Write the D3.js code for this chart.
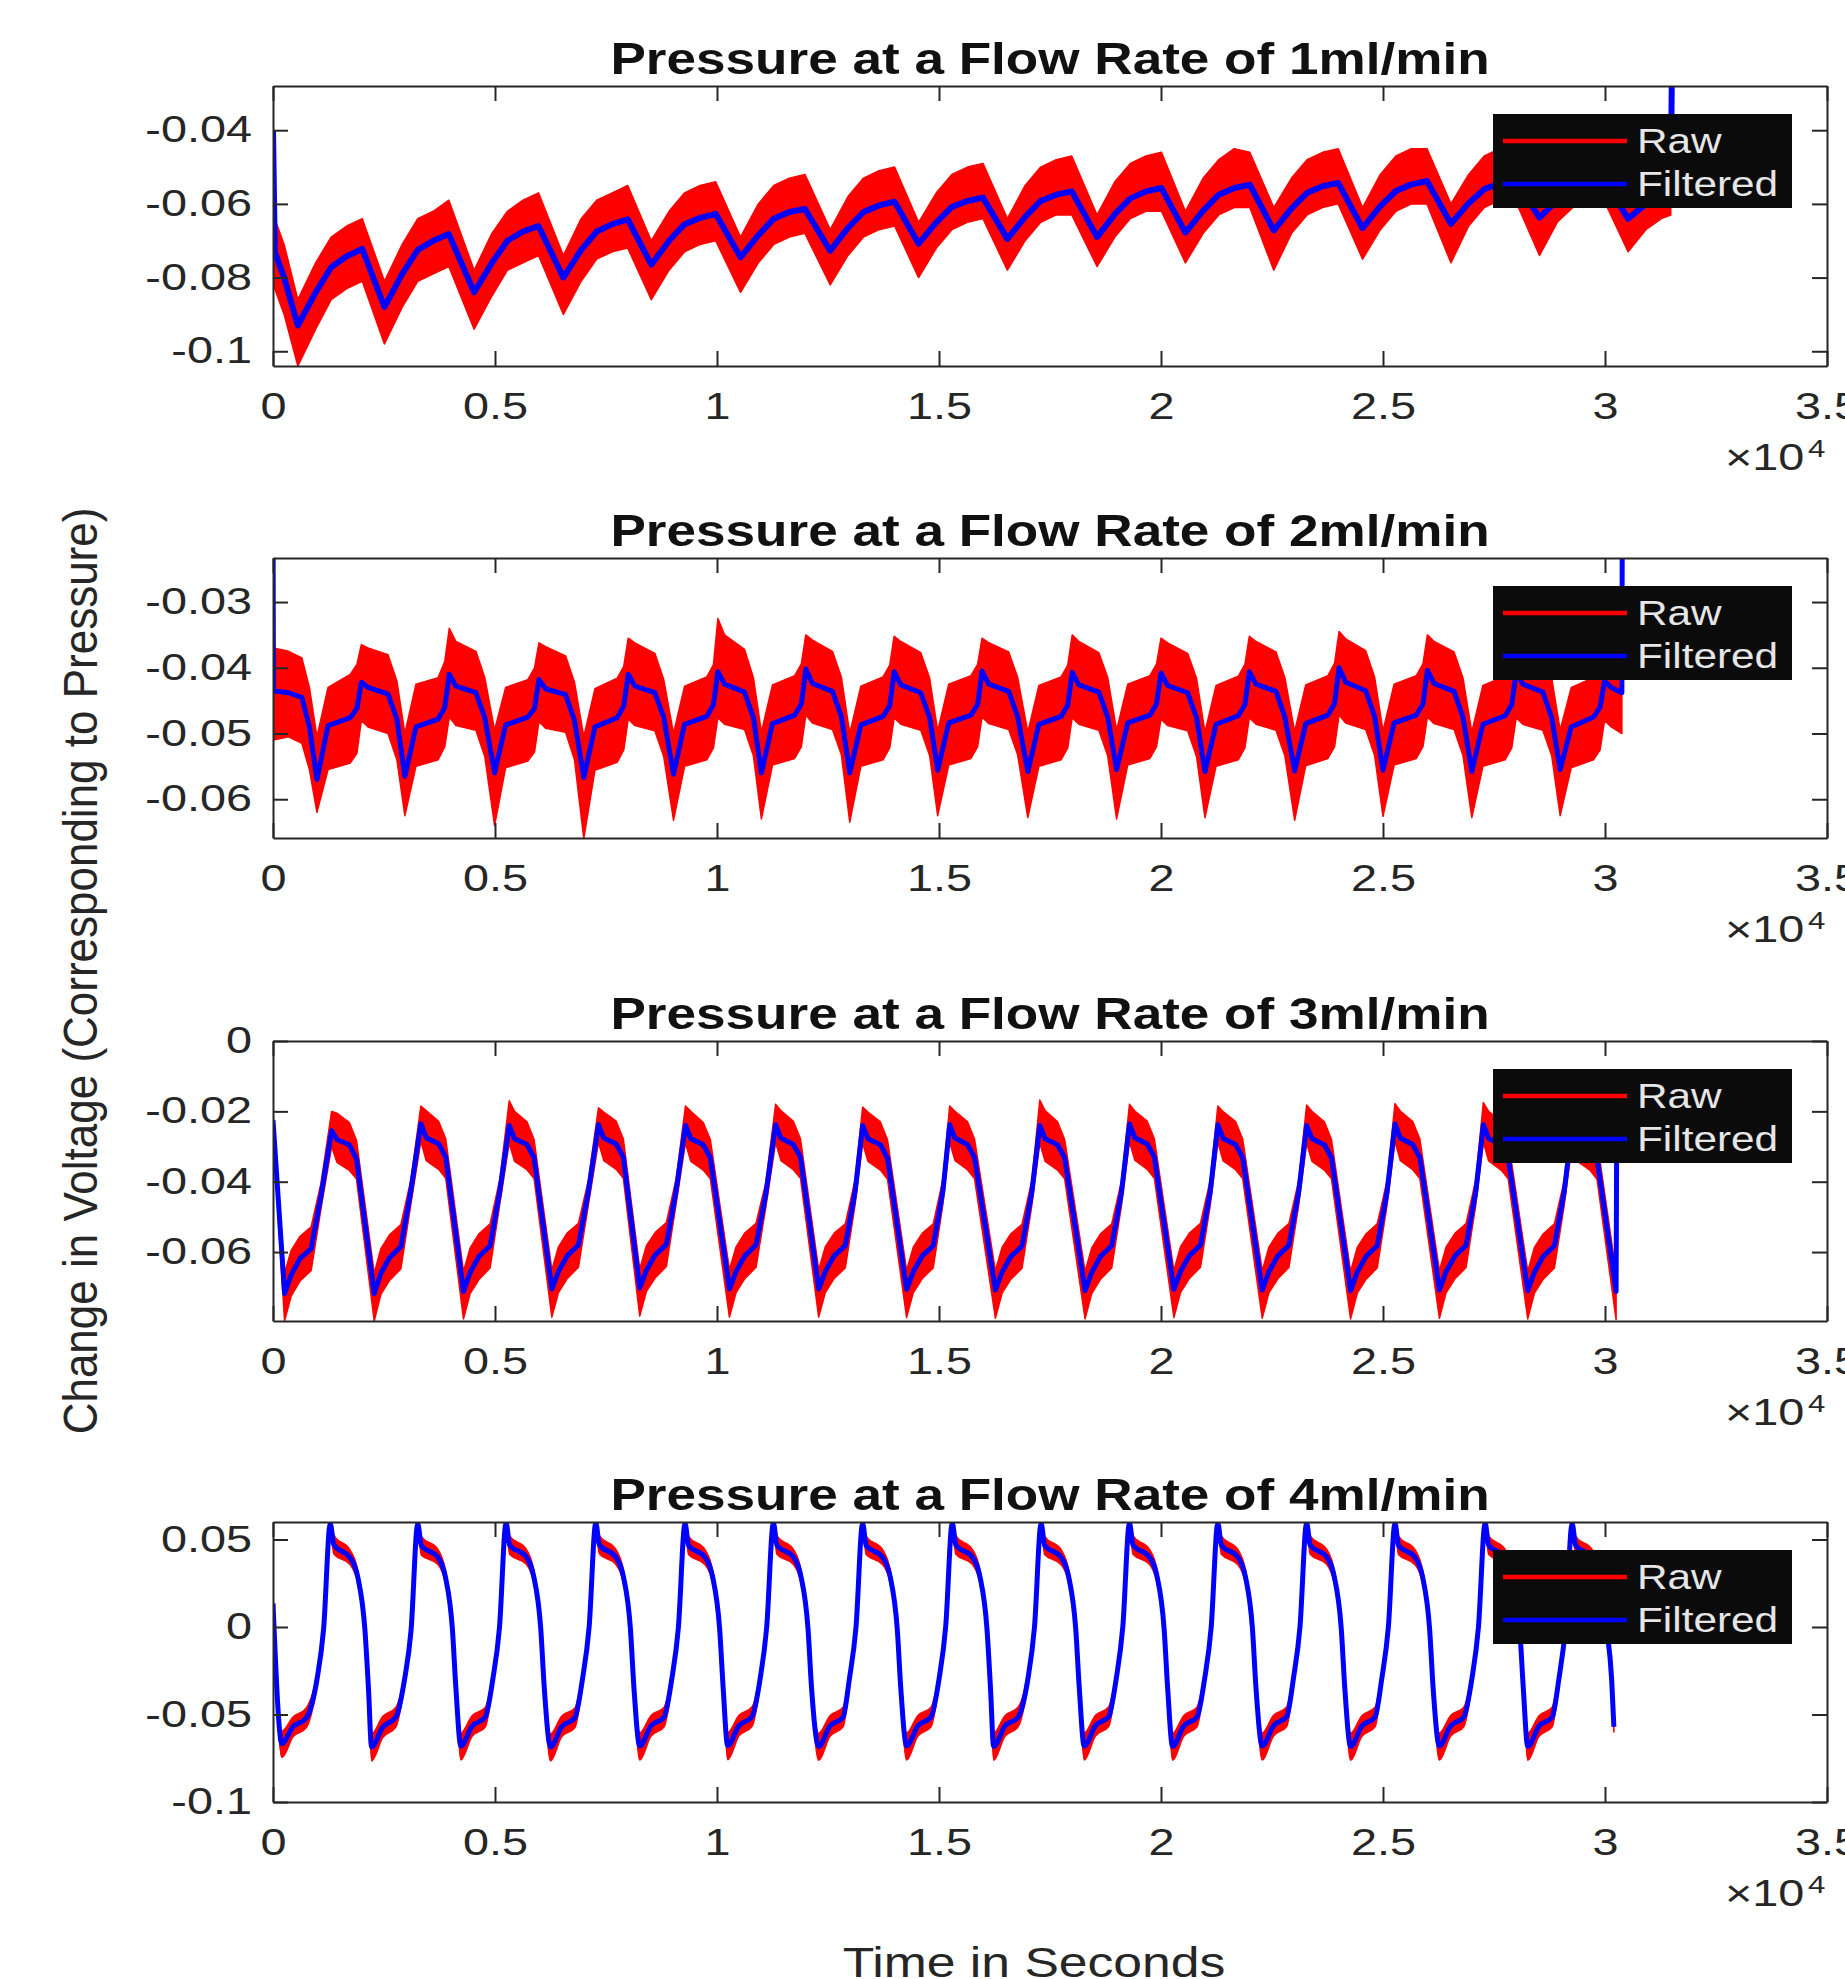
<!DOCTYPE html>
<html>
<head>
<meta charset="utf-8">
<title>Pressure at a Flow Rate of 1-4 ml/min</title>
<script src="https://cdn.jsdelivr.net/npm/d3@7"></script>
<style>
  body { margin: 0; background: #fff; }
  svg { display: block; font-family: "Liberation Sans", Arial, Helvetica, sans-serif; }
</style>
</head>
<body>
<svg id="chart" width="1845" height="1979"></svg>
<script>
const titles = [
  "Pressure at a Flow Rate of 1ml/min",
  "Pressure at a Flow Rate of 2ml/min",
  "Pressure at a Flow Rate of 3ml/min",
  "Pressure at a Flow Rate of 4ml/min"
];
const seriesNames = ["Raw", "Filtered"];
const xTicks = [0, 5000, 10000, 15000, 20000, 25000, 30000, 35000];
const xDomain = [0, 35000];
const yDomains = [[-0.104, -0.028], [-0.0659, -0.0233], [-0.0796, 0], [-0.1, 0.06]];
const yTicks = [
  [-0.1, -0.08, -0.06, -0.04],
  [-0.06, -0.05, -0.04, -0.03],
  [-0.06, -0.04, -0.02, 0],
  [-0.1, -0.05, 0, 0.05]
];
const xLabel = "Time in Seconds";
const yLabel = "Change in Voltage (Corresponding to Pressure)";

// ---- 1 ml/min : time (s), filtered, raw upper / lower envelope
const t1 = [0, 40, 250,
  560, 960, 1310, 1660, 2010,
  2510, 2910, 3260, 3610, 3960,
  4530, 4930, 5280, 5630, 5980,
  6540, 6940, 7290, 7640, 7990,
  8520, 8920, 9270, 9620, 9970,
  10530, 10930, 11280, 11630, 11980,
  12550, 12950, 13300, 13650, 14000,
  14540, 14940, 15290, 15640, 15990,
  16540, 16940, 17290, 17640, 17990,
  18560, 18960, 19310, 19660, 20010,
  20550, 20950, 21300, 21650, 22000,
  22540, 22940, 23290, 23640, 23990,
  24540, 24940, 25290, 25640, 25990,
  26530, 26930, 27280, 27630, 27980,
  28525, 28925, 29275, 29625, 29975,
  30520, 30920, 31270, 31480, 31510];
const filt1 = [-0.040, -0.073, -0.080,
  -0.0930, -0.0840, -0.0772, -0.0742, -0.0722,
  -0.0880, -0.0790, -0.0725, -0.0700, -0.0682,
  -0.0840, -0.0760, -0.0700, -0.0675, -0.0660,
  -0.0800, -0.0725, -0.0675, -0.0655, -0.0642,
  -0.0765, -0.0700, -0.0655, -0.0638, -0.0627,
  -0.0745, -0.0685, -0.0640, -0.0622, -0.0614,
  -0.0727, -0.0665, -0.0622, -0.0604, -0.0594,
  -0.0708, -0.0650, -0.0608, -0.0592, -0.0583,
  -0.0695, -0.0635, -0.0592, -0.0575, -0.0566,
  -0.0690, -0.0628, -0.0585, -0.0566, -0.0557,
  -0.0678, -0.0618, -0.0575, -0.0557, -0.0548,
  -0.0672, -0.0612, -0.0570, -0.0552, -0.0543,
  -0.0666, -0.0606, -0.0565, -0.0547, -0.0538,
  -0.0654, -0.0598, -0.0560, -0.0544, -0.0535,
  -0.0637, -0.0590, -0.0556, -0.0541, -0.0534,
  -0.0640, -0.0600, -0.0570, -0.0560, -0.0200];
const hi1 = [-0.062, -0.064, -0.071,
  -0.086, -0.076, -0.069, -0.066, -0.064,
  -0.081, -0.071, -0.064, -0.062, -0.059,
  -0.078, -0.068, -0.062, -0.059, -0.057,
  -0.074, -0.064, -0.059, -0.057, -0.055,
  -0.070, -0.062, -0.057, -0.055, -0.054,
  -0.069, -0.060, -0.055, -0.053, -0.052,
  -0.067, -0.058, -0.053, -0.051, -0.050,
  -0.065, -0.057, -0.052, -0.050, -0.049,
  -0.064, -0.055, -0.050, -0.048, -0.047,
  -0.063, -0.054, -0.049, -0.047, -0.046,
  -0.062, -0.053, -0.048, -0.045, -0.046,
  -0.061, -0.053, -0.048, -0.046, -0.045,
  -0.061, -0.052, -0.047, -0.045, -0.045,
  -0.060, -0.052, -0.047, -0.045, -0.044,
  -0.059, -0.051, -0.047, -0.045, -0.045,
  -0.058, -0.052, -0.049, -0.050, null];
const lo1 = [-0.081, -0.083, -0.090,
  -0.104, -0.094, -0.086, -0.083, -0.081,
  -0.098, -0.088, -0.081, -0.079, -0.077,
  -0.094, -0.085, -0.078, -0.076, -0.074,
  -0.090, -0.081, -0.075, -0.073, -0.072,
  -0.086, -0.078, -0.073, -0.071, -0.070,
  -0.084, -0.076, -0.071, -0.069, -0.068,
  -0.082, -0.074, -0.069, -0.067, -0.066,
  -0.080, -0.072, -0.067, -0.065, -0.064,
  -0.078, -0.070, -0.065, -0.063, -0.063,
  -0.077, -0.069, -0.064, -0.062, -0.062,
  -0.076, -0.068, -0.063, -0.061, -0.061,
  -0.078, -0.068, -0.063, -0.061, -0.060,
  -0.075, -0.067, -0.062, -0.060, -0.060,
  -0.076, -0.066, -0.061, -0.059, -0.059,
  -0.074, -0.065, -0.061, -0.059, -0.059,
  -0.073, -0.067, -0.064, -0.063, null];

// ---- 2 ml/min
const t2 = [0, 10, 350, 650, 820,
  990, 1240, 1740, 1890, 1990, 2140, 2590, 2790,
  2970, 3220, 3720, 3870, 3970, 4120, 4570, 4770,
  4990, 5240, 5740, 5890, 5990, 6140, 6590, 6790,
  7000, 7250, 7750, 7900, 8000, 8150, 8600, 8800,
  9020, 9270, 9770, 9920, 10020, 10170, 10620, 10820,
  11000, 11250, 11750, 11900, 12000, 12150, 12600, 12800,
  12990, 13240, 13740, 13890, 13990, 14140, 14590, 14790,
  14970, 15220, 15720, 15870, 15970, 16120, 16570, 16770,
  17000, 17250, 17750, 17900, 18000, 18150, 18600, 18800,
  19000, 19250, 19750, 19900, 20000, 20150, 20600, 20800,
  20990, 21240, 21740, 21890, 21990, 22140, 22590, 22790,
  23010, 23260, 23760, 23910, 24010, 24160, 24610, 24810,
  25000, 25250, 25750, 25900, 26000, 26150, 26600, 26800,
  27000, 27250, 27750, 27900, 28000, 28150, 28600, 28800,
  28990, 29240, 29740, 29890, 29990, 30140, 30380, 30390];
const filt2 = [-0.0150, -0.0435, -0.0438, -0.0445, -0.0490,
  -0.0570, -0.0488, -0.0476, -0.0462, -0.0422, -0.0430, -0.0440, -0.0478,
  -0.0565, -0.0490, -0.0478, -0.0460, -0.0410, -0.0428, -0.0438, -0.0476,
  -0.0560, -0.0487, -0.0475, -0.0462, -0.0418, -0.0432, -0.0441, -0.0480,
  -0.0567, -0.0490, -0.0476, -0.0458, -0.0410, -0.0428, -0.0438, -0.0475,
  -0.0562, -0.0486, -0.0474, -0.0456, -0.0406, -0.0425, -0.0437, -0.0476,
  -0.0560, -0.0485, -0.0472, -0.0455, -0.0402, -0.0424, -0.0436, -0.0474,
  -0.0560, -0.0487, -0.0474, -0.0458, -0.0406, -0.0426, -0.0438, -0.0476,
  -0.0556, -0.0484, -0.0472, -0.0456, -0.0405, -0.0425, -0.0436, -0.0474,
  -0.0558, -0.0486, -0.0474, -0.0457, -0.0407, -0.0426, -0.0437, -0.0475,
  -0.0555, -0.0484, -0.0472, -0.0455, -0.0408, -0.0427, -0.0438, -0.0476,
  -0.0558, -0.0486, -0.0473, -0.0456, -0.0406, -0.0425, -0.0436, -0.0475,
  -0.0557, -0.0485, -0.0472, -0.0454, -0.0400, -0.0422, -0.0435, -0.0474,
  -0.0556, -0.0484, -0.0472, -0.0455, -0.0404, -0.0424, -0.0436, -0.0475,
  -0.0558, -0.0486, -0.0473, -0.0456, -0.0406, -0.0425, -0.0437, -0.0476,
  -0.0555, -0.0490, -0.0475, -0.0460, -0.0420, -0.0430, -0.0438, -0.0150];
const hi2 = [null, -0.0370, -0.0375, -0.0385, -0.0430,
  -0.0505, -0.0430, -0.0410, -0.0395, -0.0365, -0.0370, -0.0380, -0.0420,
  -0.0500, -0.0425, -0.0415, -0.0390, -0.0340, -0.0360, -0.0375, -0.0415,
  -0.0495, -0.0430, -0.0418, -0.0400, -0.0362, -0.0368, -0.0382, -0.0422,
  -0.0505, -0.0432, -0.0416, -0.0398, -0.0355, -0.0362, -0.0378, -0.0418,
  -0.0500, -0.0428, -0.0414, -0.0395, -0.0325, -0.0350, -0.0372, -0.0415,
  -0.0498, -0.0426, -0.0412, -0.0394, -0.0350, -0.0358, -0.0375, -0.0414,
  -0.0500, -0.0428, -0.0414, -0.0396, -0.0352, -0.0360, -0.0377, -0.0416,
  -0.0496, -0.0425, -0.0412, -0.0395, -0.0355, -0.0362, -0.0376, -0.0414,
  -0.0498, -0.0427, -0.0414, -0.0396, -0.0350, -0.0360, -0.0377, -0.0415,
  -0.0495, -0.0425, -0.0412, -0.0394, -0.0355, -0.0362, -0.0378, -0.0416,
  -0.0498, -0.0427, -0.0413, -0.0395, -0.0352, -0.0360, -0.0376, -0.0415,
  -0.0497, -0.0426, -0.0412, -0.0393, -0.0345, -0.0356, -0.0374, -0.0414,
  -0.0496, -0.0425, -0.0412, -0.0394, -0.0350, -0.0360, -0.0376, -0.0415,
  -0.0498, -0.0427, -0.0413, -0.0395, -0.0352, -0.0362, -0.0377, -0.0416,
  -0.0495, -0.0430, -0.0415, -0.0400, -0.0365, -0.0370, -0.0378, null];
const lo2 = [null, -0.0510, -0.0505, -0.0515, -0.0555,
  -0.0620, -0.0555, -0.0545, -0.0530, -0.0480, -0.0490, -0.0500, -0.0540,
  -0.0625, -0.0550, -0.0540, -0.0520, -0.0475, -0.0488, -0.0495, -0.0535,
  -0.0640, -0.0552, -0.0542, -0.0528, -0.0482, -0.0492, -0.0498, -0.0540,
  -0.0660, -0.0556, -0.0544, -0.0525, -0.0478, -0.0488, -0.0496, -0.0535,
  -0.0632, -0.0550, -0.0540, -0.0522, -0.0476, -0.0486, -0.0494, -0.0534,
  -0.0630, -0.0548, -0.0538, -0.0520, -0.0472, -0.0484, -0.0494, -0.0532,
  -0.0635, -0.0550, -0.0540, -0.0522, -0.0476, -0.0486, -0.0495, -0.0534,
  -0.0625, -0.0548, -0.0538, -0.0520, -0.0475, -0.0485, -0.0494, -0.0532,
  -0.0628, -0.0550, -0.0540, -0.0522, -0.0476, -0.0486, -0.0495, -0.0534,
  -0.0630, -0.0548, -0.0538, -0.0520, -0.0478, -0.0488, -0.0496, -0.0535,
  -0.0628, -0.0550, -0.0540, -0.0522, -0.0476, -0.0486, -0.0495, -0.0534,
  -0.0632, -0.0549, -0.0538, -0.0520, -0.0472, -0.0484, -0.0494, -0.0533,
  -0.0626, -0.0548, -0.0538, -0.0520, -0.0475, -0.0485, -0.0494, -0.0533,
  -0.0628, -0.0550, -0.0540, -0.0522, -0.0476, -0.0486, -0.0495, -0.0534,
  -0.0625, -0.0552, -0.0540, -0.0525, -0.0480, -0.0490, -0.0500, null];

// ---- 3 ml/min
const t3 = [0,
  260, 410, 610, 860, 1080, 1320, 1440, 1720, 1880,
  2280, 2430, 2630, 2880, 3100, 3330, 3450, 3730, 3890,
  4290, 4440, 4640, 4890, 5110, 5320, 5440, 5720, 5880,
  6280, 6430, 6630, 6880, 7100, 7330, 7450, 7730, 7890,
  8260, 8410, 8610, 8860, 9080, 9290, 9410, 9690, 9850,
  10280, 10430, 10630, 10880, 11100, 11320, 11440, 11720, 11880,
  12290, 12440, 12640, 12890, 13110, 13280, 13400, 13680, 13840,
  14270, 14420, 14620, 14870, 15090, 15240, 15360, 15640, 15800,
  16270, 16420, 16620, 16870, 17090, 17270, 17390, 17670, 17830,
  18290, 18440, 18640, 18890, 19110, 19290, 19410, 19690, 19850,
  20290, 20440, 20640, 20890, 21110, 21280, 21400, 21680, 21840,
  22280, 22430, 22630, 22880, 23100, 23280, 23400, 23680, 23840,
  24270, 24420, 24620, 24870, 25090, 25270, 25390, 25670, 25830,
  26270, 26420, 26620, 26870, 27090, 27260, 27380, 27660, 27820,
  28260, 28410, 28610, 28860, 29080, 29260, 29380, 29660, 29820,
  30250, 30265];
const filt3 = [-0.0225,
  -0.0718, -0.0665, -0.0618, -0.0590, -0.0440, -0.0255, -0.0280, -0.0295, -0.0335,
  -0.0718, -0.0660, -0.0615, -0.0585, -0.0430, -0.0235, -0.0275, -0.0292, -0.0330,
  -0.0712, -0.0658, -0.0612, -0.0582, -0.0425, -0.0240, -0.0278, -0.0294, -0.0332,
  -0.0705, -0.0655, -0.0610, -0.0580, -0.0430, -0.0238, -0.0276, -0.0293, -0.0330,
  -0.0702, -0.0652, -0.0608, -0.0578, -0.0425, -0.0240, -0.0278, -0.0295, -0.0332,
  -0.0705, -0.0655, -0.0610, -0.0580, -0.0435, -0.0238, -0.0276, -0.0294, -0.0330,
  -0.0705, -0.0655, -0.0610, -0.0582, -0.0428, -0.0240, -0.0278, -0.0295, -0.0333,
  -0.0706, -0.0656, -0.0611, -0.0582, -0.0425, -0.0238, -0.0276, -0.0294, -0.0331,
  -0.0708, -0.0657, -0.0612, -0.0583, -0.0430, -0.0240, -0.0278, -0.0295, -0.0332,
  -0.0710, -0.0658, -0.0612, -0.0582, -0.0430, -0.0236, -0.0275, -0.0293, -0.0330,
  -0.0706, -0.0655, -0.0610, -0.0580, -0.0428, -0.0238, -0.0277, -0.0294, -0.0331,
  -0.0708, -0.0656, -0.0611, -0.0581, -0.0430, -0.0240, -0.0278, -0.0295, -0.0332,
  -0.0710, -0.0657, -0.0612, -0.0582, -0.0430, -0.0236, -0.0276, -0.0294, -0.0331,
  -0.0708, -0.0656, -0.0611, -0.0581, -0.0428, -0.0238, -0.0277, -0.0295, -0.0332,
  -0.0710, -0.0657, -0.0612, -0.0582, -0.0430, -0.0240, -0.0278, -0.0295, -0.0333,
  -0.0712, -0.0200];
const hi3 = [-0.0200,
  -0.0660, -0.0595, -0.0555, -0.0528, -0.0405, -0.0200, -0.0205, -0.0232, -0.0282,
  -0.0660, -0.0590, -0.0550, -0.0522, -0.0398, -0.0185, -0.0198, -0.0228, -0.0278,
  -0.0655, -0.0588, -0.0548, -0.0520, -0.0392, -0.0170, -0.0200, -0.0230, -0.0280,
  -0.0650, -0.0585, -0.0545, -0.0518, -0.0398, -0.0190, -0.0202, -0.0228, -0.0278,
  -0.0648, -0.0582, -0.0544, -0.0516, -0.0392, -0.0185, -0.0200, -0.0232, -0.0280,
  -0.0650, -0.0585, -0.0545, -0.0518, -0.0402, -0.0180, -0.0198, -0.0228, -0.0278,
  -0.0650, -0.0585, -0.0546, -0.0520, -0.0395, -0.0188, -0.0202, -0.0230, -0.0281,
  -0.0652, -0.0586, -0.0547, -0.0520, -0.0392, -0.0185, -0.0200, -0.0229, -0.0279,
  -0.0653, -0.0587, -0.0548, -0.0521, -0.0398, -0.0168, -0.0198, -0.0230, -0.0280,
  -0.0655, -0.0588, -0.0548, -0.0520, -0.0398, -0.0180, -0.0199, -0.0228, -0.0278,
  -0.0652, -0.0585, -0.0546, -0.0518, -0.0395, -0.0185, -0.0201, -0.0229, -0.0279,
  -0.0653, -0.0586, -0.0547, -0.0519, -0.0398, -0.0182, -0.0200, -0.0230, -0.0280,
  -0.0655, -0.0587, -0.0548, -0.0520, -0.0398, -0.0178, -0.0199, -0.0229, -0.0279,
  -0.0653, -0.0586, -0.0547, -0.0519, -0.0395, -0.0175, -0.0200, -0.0230, -0.0280,
  -0.0655, -0.0587, -0.0548, -0.0520, -0.0398, -0.0185, -0.0201, -0.0230, -0.0281,
  -0.0660, null];
const lo3 = [-0.0250,
  -0.0796, -0.0725, -0.0682, -0.0652, -0.0478, -0.0300, -0.0345, -0.0368, -0.0392,
  -0.0796, -0.0720, -0.0680, -0.0648, -0.0468, -0.0285, -0.0340, -0.0365, -0.0390,
  -0.0790, -0.0718, -0.0678, -0.0645, -0.0462, -0.0290, -0.0342, -0.0366, -0.0391,
  -0.0785, -0.0715, -0.0675, -0.0643, -0.0468, -0.0288, -0.0340, -0.0365, -0.0390,
  -0.0782, -0.0712, -0.0673, -0.0641, -0.0462, -0.0290, -0.0342, -0.0367, -0.0392,
  -0.0785, -0.0715, -0.0675, -0.0643, -0.0472, -0.0288, -0.0340, -0.0366, -0.0390,
  -0.0785, -0.0715, -0.0675, -0.0645, -0.0465, -0.0290, -0.0342, -0.0367, -0.0393,
  -0.0786, -0.0716, -0.0676, -0.0645, -0.0462, -0.0288, -0.0340, -0.0366, -0.0391,
  -0.0788, -0.0717, -0.0677, -0.0646, -0.0468, -0.0290, -0.0342, -0.0367, -0.0392,
  -0.0790, -0.0718, -0.0677, -0.0645, -0.0468, -0.0286, -0.0339, -0.0365, -0.0390,
  -0.0786, -0.0715, -0.0675, -0.0643, -0.0466, -0.0288, -0.0341, -0.0366, -0.0391,
  -0.0788, -0.0716, -0.0676, -0.0644, -0.0468, -0.0290, -0.0342, -0.0367, -0.0392,
  -0.0790, -0.0717, -0.0677, -0.0645, -0.0468, -0.0286, -0.0340, -0.0366, -0.0391,
  -0.0788, -0.0716, -0.0676, -0.0644, -0.0466, -0.0288, -0.0341, -0.0367, -0.0392,
  -0.0790, -0.0717, -0.0677, -0.0645, -0.0468, -0.0290, -0.0342, -0.0367, -0.0393,
  -0.0792, null];

// ---- 4 ml/min
const t4 = [0,
  200, 450, 750, 990, 1140, 1290, 1370, 1740, 1910, 2070, 2150,
  2220, 2470, 2770, 2960, 3110, 3260, 3340, 3710, 3880, 4040, 4120,
  4230, 4480, 4780, 4950, 5100, 5250, 5330, 5700, 5870, 6030, 6110,
  6250, 6500, 6800, 6970, 7120, 7270, 7350, 7720, 7890, 8050, 8130,
  8260, 8510, 8810, 8980, 9130, 9280, 9360, 9730, 9900, 10060, 10140,
  10240, 10490, 10790, 10970, 11120, 11270, 11350, 11720, 11890, 12050, 12130,
  12290, 12540, 12840, 12980, 13130, 13280, 13360, 13730, 13900, 14060, 14140,
  14270, 14520, 14820, 15000, 15150, 15300, 15380, 15750, 15920, 16080, 16160,
  16230, 16480, 16780, 17000, 17150, 17300, 17380, 17750, 17920, 18080, 18160,
  18270, 18520, 18820, 18990, 19140, 19290, 19370, 19740, 19910, 20070, 20150,
  20260, 20510, 20810, 20980, 21130, 21280, 21360, 21730, 21900, 22060, 22140,
  22280, 22530, 22830, 22980, 23130, 23280, 23360, 23730, 23900, 24060, 24140,
  24270, 24520, 24820, 24970, 25120, 25270, 25350, 25720, 25890, 26050, 26130,
  26270, 26520, 26820, 27000, 27150, 27300, 27380, 27750, 27920, 28080, 28160,
  28260, 28510, 28810, 28960, 29110, 29260, 29340, 29710, 29880, 30040, 30150, 30200];
const filt4 = [0.0135,
  -0.0665, -0.0570, -0.0520, -0.0300, -0.0010, 0.0590, 0.0470, 0.0395, 0.0285, -0.0015, -0.0350,
  -0.0685, -0.0573, -0.0514, -0.0304, -0.0017, 0.0590, 0.0465, 0.0400, 0.0290, -0.0010, -0.0352,
  -0.0680, -0.0568, -0.0515, -0.0300, -0.0005, 0.0595, 0.0468, 0.0402, 0.0292, -0.0008, -0.0348,
  -0.0685, -0.0570, -0.0518, -0.0298, 0.0000, 0.0595, 0.0470, 0.0400, 0.0290, -0.0010, -0.0350,
  -0.0680, -0.0566, -0.0514, -0.0300, -0.0004, 0.0592, 0.0466, 0.0398, 0.0288, -0.0012, -0.0352,
  -0.0678, -0.0565, -0.0512, -0.0298, 0.0002, 0.0595, 0.0468, 0.0400, 0.0290, -0.0010, -0.0350,
  -0.0682, -0.0567, -0.0515, -0.0300, -0.0002, 0.0592, 0.0466, 0.0398, 0.0288, -0.0012, -0.0352,
  -0.0680, -0.0566, -0.0514, -0.0299, 0.0000, 0.0594, 0.0468, 0.0400, 0.0290, -0.0010, -0.0350,
  -0.0682, -0.0567, -0.0515, -0.0300, -0.0002, 0.0592, 0.0466, 0.0398, 0.0288, -0.0012, -0.0351,
  -0.0680, -0.0565, -0.0513, -0.0298, 0.0001, 0.0594, 0.0468, 0.0400, 0.0290, -0.0010, -0.0350,
  -0.0682, -0.0566, -0.0514, -0.0300, -0.0002, 0.0593, 0.0467, 0.0399, 0.0289, -0.0011, -0.0351,
  -0.0680, -0.0565, -0.0513, -0.0299, 0.0000, 0.0594, 0.0468, 0.0400, 0.0290, -0.0010, -0.0350,
  -0.0682, -0.0567, -0.0515, -0.0300, -0.0002, 0.0592, 0.0466, 0.0398, 0.0288, -0.0012, -0.0352,
  -0.0680, -0.0566, -0.0514, -0.0299, 0.0000, 0.0594, 0.0468, 0.0400, 0.0290, -0.0010, -0.0350,
  -0.0682, -0.0567, -0.0515, -0.0300, -0.0002, 0.0590, 0.0466, 0.0398, 0.0288, -0.0012, -0.0300, -0.0570];
const hi4 = [0.0160,
  -0.0595, -0.0515, -0.0462, -0.0265, 0.0025, 0.0625, 0.0525, 0.0438, 0.0322, 0.0012, -0.0320,
  -0.0610, -0.0512, -0.0458, -0.0268, 0.0020, 0.0625, 0.0518, 0.0445, 0.0328, 0.0016, -0.0322,
  -0.0605, -0.0508, -0.0460, -0.0264, 0.0032, 0.0630, 0.0520, 0.0446, 0.0330, 0.0018, -0.0318,
  -0.0610, -0.0510, -0.0462, -0.0262, 0.0036, 0.0630, 0.0522, 0.0444, 0.0328, 0.0016, -0.0320,
  -0.0605, -0.0507, -0.0458, -0.0264, 0.0032, 0.0628, 0.0518, 0.0442, 0.0326, 0.0014, -0.0322,
  -0.0603, -0.0506, -0.0456, -0.0262, 0.0038, 0.0630, 0.0520, 0.0444, 0.0328, 0.0016, -0.0320,
  -0.0607, -0.0508, -0.0459, -0.0264, 0.0034, 0.0628, 0.0518, 0.0442, 0.0326, 0.0014, -0.0322,
  -0.0605, -0.0507, -0.0458, -0.0263, 0.0036, 0.0630, 0.0520, 0.0444, 0.0328, 0.0016, -0.0320,
  -0.0607, -0.0508, -0.0459, -0.0264, 0.0034, 0.0628, 0.0518, 0.0442, 0.0326, 0.0014, -0.0321,
  -0.0605, -0.0506, -0.0457, -0.0262, 0.0037, 0.0630, 0.0520, 0.0444, 0.0328, 0.0016, -0.0320,
  -0.0607, -0.0507, -0.0458, -0.0264, 0.0034, 0.0629, 0.0519, 0.0443, 0.0327, 0.0015, -0.0321,
  -0.0605, -0.0506, -0.0457, -0.0263, 0.0036, 0.0630, 0.0520, 0.0444, 0.0328, 0.0016, -0.0320,
  -0.0607, -0.0508, -0.0459, -0.0264, 0.0034, 0.0628, 0.0518, 0.0442, 0.0326, 0.0014, -0.0322,
  -0.0605, -0.0507, -0.0458, -0.0263, 0.0036, 0.0630, 0.0520, 0.0444, 0.0328, 0.0016, -0.0320,
  -0.0607, -0.0508, -0.0459, -0.0264, 0.0034, 0.0626, 0.0518, 0.0442, 0.0326, 0.0014, -0.0270, -0.0540];
const lo4 = [0.0100,
  -0.0745, -0.0628, -0.0575, -0.0335, -0.0045, 0.0555, 0.0418, 0.0355, 0.0250, -0.0042, -0.0382,
  -0.0765, -0.0632, -0.0570, -0.0340, -0.0052, 0.0555, 0.0412, 0.0358, 0.0254, -0.0038, -0.0384,
  -0.0760, -0.0626, -0.0572, -0.0336, -0.0042, 0.0560, 0.0415, 0.0360, 0.0256, -0.0035, -0.0380,
  -0.0765, -0.0628, -0.0575, -0.0334, -0.0036, 0.0560, 0.0418, 0.0358, 0.0254, -0.0038, -0.0382,
  -0.0760, -0.0625, -0.0570, -0.0336, -0.0040, 0.0556, 0.0414, 0.0356, 0.0252, -0.0040, -0.0384,
  -0.0758, -0.0624, -0.0568, -0.0334, -0.0034, 0.0560, 0.0416, 0.0358, 0.0254, -0.0038, -0.0382,
  -0.0762, -0.0626, -0.0571, -0.0336, -0.0038, 0.0556, 0.0414, 0.0356, 0.0252, -0.0040, -0.0384,
  -0.0760, -0.0625, -0.0570, -0.0335, -0.0036, 0.0558, 0.0416, 0.0358, 0.0254, -0.0038, -0.0382,
  -0.0762, -0.0626, -0.0571, -0.0336, -0.0038, 0.0556, 0.0414, 0.0356, 0.0252, -0.0040, -0.0383,
  -0.0760, -0.0624, -0.0569, -0.0334, -0.0035, 0.0558, 0.0416, 0.0358, 0.0254, -0.0038, -0.0382,
  -0.0762, -0.0625, -0.0570, -0.0336, -0.0038, 0.0557, 0.0415, 0.0357, 0.0253, -0.0039, -0.0383,
  -0.0760, -0.0624, -0.0569, -0.0335, -0.0036, 0.0558, 0.0416, 0.0358, 0.0254, -0.0038, -0.0382,
  -0.0762, -0.0626, -0.0571, -0.0336, -0.0038, 0.0556, 0.0414, 0.0356, 0.0252, -0.0040, -0.0384,
  -0.0760, -0.0625, -0.0570, -0.0335, -0.0036, 0.0558, 0.0416, 0.0358, 0.0254, -0.0038, -0.0382,
  -0.0762, -0.0626, -0.0571, -0.0336, -0.0038, 0.0554, 0.0414, 0.0356, 0.0252, -0.0040, -0.0335, -0.0600];

// layout
const FONT = '"Liberation Sans", Arial, Helvetica, sans-serif';
const INK = "#262626";
const plotLeft = 273, plotRight = 1827, plotH = 280;
const panelTops = [86, 558, 1041, 1522];
const tickLen = 15;

const panels = [
  { t: t1, filt: filt1, hi: hi1, lo: lo1, curve: d3.curveLinear },
  { t: t2, filt: filt2, hi: hi2, lo: lo2, curve: d3.curveLinear },
  { t: t3, filt: filt3, hi: hi3, lo: lo3, curve: d3.curveLinear },
  { t: t4, filt: filt4, hi: hi4, lo: lo4, curve: d3.curveMonotoneX }
];

const svg = d3.select("#chart");
svg.append("rect").attr("width", 1845).attr("height", 1979).attr("fill", "#fff");
const defs = svg.append("defs");

const x = d3.scaleLinear().domain(xDomain).range([plotLeft, plotRight]);

// text in the source figure is drawn wider than the font's natural width
function widen(sel, sx) {
  sel.each(function () {
    const el = d3.select(this);
    const tx = +(el.attr("x") || 0), ty = +(el.attr("y") || 0);
    el.attr("x", 0).attr("y", 0)
      .attr("transform", `translate(${tx},${ty}) scale(${sx},1)`);
  });
}

function styleAxis(g) {
  g.attr("font-family", FONT).attr("font-size", 36);
  g.select(".domain").attr("stroke", INK).attr("stroke-width", 2);
  g.selectAll(".tick line").attr("stroke", INK).attr("stroke-width", 2);
  g.selectAll(".tick text").attr("fill", INK);
}

const yFmt = d => String(+d.toFixed(3));

panels.forEach((p, i) => {
  const top = panelTops[i];
  const bottom = top + plotH;
  const y = d3.scaleLinear().domain(yDomains[i]).range([bottom, top]);

  defs.append("clipPath").attr("id", "clip" + i)
    .append("rect")
    .attr("x", plotLeft).attr("y", top)
    .attr("width", plotRight - plotLeft).attr("height", plotH);

  const idx = d3.range(p.t.length);
  const plot = svg.append("g").attr("clip-path", `url(#clip${i})`);

  const band = d3.area()
    .defined(j => p.hi[j] != null && p.lo[j] != null)
    .curve(p.curve)
    .x(j => x(p.t[j]))
    .y0(j => y(p.lo[j]))
    .y1(j => y(p.hi[j]));
  plot.append("path")
    .attr("d", band(idx))
    .attr("fill", "#ff0000")
    .attr("stroke", "#ff0000")
    .attr("stroke-width", 1.5)
    .attr("stroke-linejoin", "round");

  const line = d3.line().curve(p.curve).x(j => x(p.t[j])).y(j => y(p.filt[j]));
  plot.append("path")
    .attr("d", line(idx))
    .attr("fill", "none")
    .attr("stroke", "#0000ff")
    .attr("stroke-width", i === 0 ? 6 : 5)
    .attr("stroke-linejoin", "round");

  // box axes with inward ticks
  svg.append("g").attr("transform", `translate(0,${bottom})`)
    .call(d3.axisBottom(x).tickValues(xTicks).tickFormat(d => String(d / 1e4))
      .tickSizeInner(-tickLen).tickSizeOuter(0).tickPadding(27))
    .call(styleAxis)
    .call(g => widen(g.selectAll(".tick text"), 1.3));
  svg.append("g").attr("transform", `translate(0,${top})`)
    .call(d3.axisTop(x).tickValues(xTicks).tickFormat("")
      .tickSizeInner(-tickLen).tickSizeOuter(0))
    .call(styleAxis);
  svg.append("g").attr("transform", `translate(${plotLeft},0)`)
    .call(d3.axisLeft(y).tickValues(yTicks[i]).tickFormat(yFmt)
      .tickSizeInner(-tickLen).tickSizeOuter(0).tickPadding(21))
    .call(styleAxis)
    .call(g => widen(g.selectAll(".tick text"), 1.3));
  svg.append("g").attr("transform", `translate(${plotRight},0)`)
    .call(d3.axisRight(y).tickValues(yTicks[i]).tickFormat("")
      .tickSizeInner(-tickLen).tickSizeOuter(0))
    .call(styleAxis);

  // exponent label
  svg.append("text")
    .attr("font-family", FONT).attr("font-size", 36).attr("fill", INK)
    .attr("transform", `translate(1725,${bottom + 104}) scale(1.3,1)`)
    .text("\u00d710");
  svg.append("text")
    .attr("font-family", FONT).attr("font-size", 24).attr("fill", INK)
    .attr("transform", `translate(1808,${bottom + 91}) scale(1.3,1)`)
    .text("4");

  // title
  svg.append("text")
    .attr("font-family", FONT).attr("font-size", 45).attr("font-weight", "bold")
    .attr("fill", "#111").attr("text-anchor", "middle")
    .attr("transform", `translate(${(plotLeft + plotRight) / 2},${top - 12.5}) scale(1.18,1)`)
    .text(titles[i]);

  // legend
  const lg = svg.append("g").attr("transform", `translate(1493,${top + 28})`);
  lg.append("rect").attr("width", 299).attr("height", 94).attr("fill", "#0b0b0b");
  const colors = ["#ff0000", "#0000ff"];
  seriesNames.forEach((name, k) => {
    const ly = 27 + k * 43;
    lg.append("line")
      .attr("x1", 10).attr("x2", 134).attr("y1", ly).attr("y2", ly)
      .attr("stroke", colors[k]).attr("stroke-width", 4.5);
    lg.append("text")
      .attr("font-family", FONT).attr("font-size", 35).attr("fill", "#e6e6e6")
      .attr("transform", `translate(144,${ly + 12}) scale(1.21,1)`)
      .text(name);
  });
});

// axis titles
svg.append("text")
  .attr("font-family", FONT).attr("font-size", 42).attr("fill", INK)
  .attr("text-anchor", "middle")
  .attr("transform", "translate(1034,1977) scale(1.23,1)")
  .text(xLabel);
svg.append("text")
  .attr("font-family", FONT).attr("font-size", 44).attr("fill", INK)
  .attr("text-anchor", "middle")
  .attr("transform", "translate(97,971) scale(1.11,1) rotate(-90)")
  .text(yLabel);
</script>
</body>
</html>
